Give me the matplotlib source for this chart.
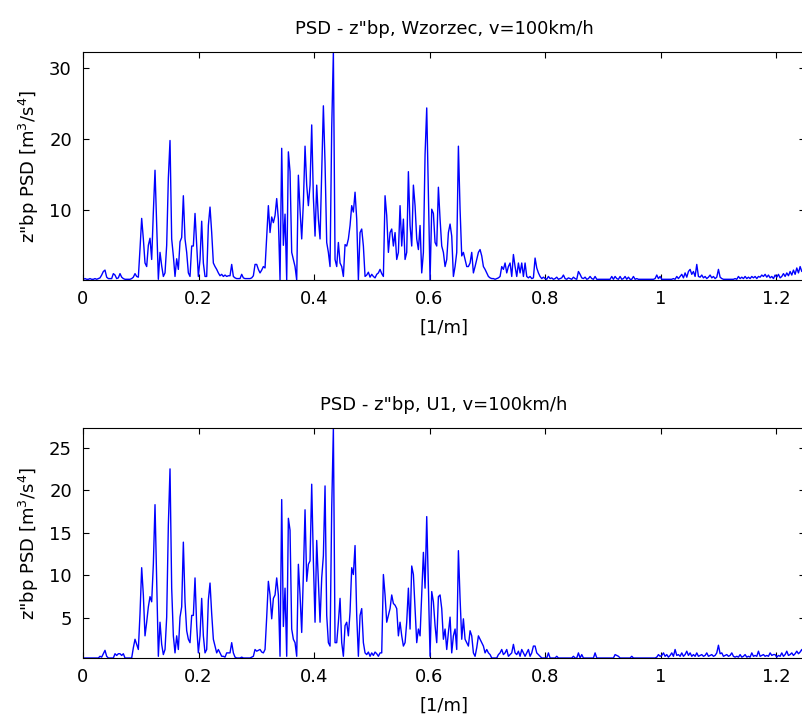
import numpy as np
import matplotlib
matplotlib.use("Agg")
import matplotlib.pyplot as plt

plt.rcParams['font.family'] = ['DejaVu Sans']

# regular frequency grid [1/m]
F_START = 0.000577
F_STEP = 0.002886

psd_wzorzec = [
    0.2,0.3,0.2,0.2,0.3,0.2,0.2,0.3,
    0.2,0.3,0.4,0.8,1.3,1.5,0.5,0.3,0.3,0.3,
    1.0,0.8,0.3,0.4,1.0,0.5,0.3,0.2,0.2,0.2,
    0.2,0.3,0.5,1.0,0.6,0.5,4.5,8.8,5.9,2.5,
    2.0,5.0,6.0,3.0,9.7,15.6,7.8,0.2,4.0,2.1,
    0.6,1.1,5.0,14.5,19.8,5.9,3.5,0.6,3.1,1.6,
    5.5,6.1,12.0,5.9,4.0,1.1,0.6,4.9,4.9,9.5,
    4.9,0.6,3.0,8.4,2.5,0.6,0.6,7.8,10.4,6.8,
    2.5,2.0,1.6,1.1,0.7,0.9,0.6,0.8,0.6,0.7,
    0.7,2.3,0.6,0.4,0.3,0.3,0.3,0.9,0.4,0.3,
    0.3,0.3,0.3,0.4,0.7,2.3,2.3,1.6,1.1,1.5,
    2.0,1.8,6.1,10.6,6.8,9.0,8.2,9.2,11.6,8.7,
    0.1,18.7,5.0,9.4,0.1,18.2,15.4,4.0,3.0,2.0,
    0.1,14.9,10.0,5.9,11.0,19.0,13.5,10.6,13.5,22.0,
    11.8,6.3,13.5,8.7,5.9,15.4,24.7,16.6,5.4,4.0,
    2.0,21.6,32.3,3.0,2.0,5.4,2.5,2.0,0.6,5.1,
    4.9,5.9,7.8,10.6,9.7,12.5,8.7,0.1,6.8,7.3,
    4.9,0.6,0.8,1.2,0.5,0.9,0.6,0.4,0.9,1.1,
    1.6,1.0,0.6,12.0,9.2,4.0,6.8,7.3,4.9,6.8,
    3.0,4.0,10.6,4.9,8.7,3.0,4.0,15.4,7.8,4.9,
    13.5,10.6,5.9,4.4,7.8,1.1,4.0,17.8,24.4,12.5,
    0.1,10.1,9.5,5.4,4.9,13.2,8.7,4.9,4.0,2.0,
    3.0,6.8,8.0,6.3,0.6,2.0,4.0,19.0,10.1,3.5,
    4.0,3.0,2.0,2.0,2.5,4.0,1.1,2.0,3.0,4.0,
    4.4,3.5,2.0,1.6,1.1,0.6,0.4,0.3,0.3,0.2,
    0.3,0.4,0.6,2.0,1.6,2.5,1.1,2.0,2.5,0.6,
    3.7,2.0,0.6,2.5,1.1,2.5,0.6,2.5,0.6,0.4,
    0.6,0.3,0.4,3.2,1.8,1.1,0.6,0.3,0.5,0.3,
    0.2,0.6,0.3,0.4,0.2,0.3,0.5,0.2,0.3,0.4,
    0.8,0.3,0.2,0.4,0.3,0.2,0.5,0.3,0.2,1.3,
    0.9,0.4,0.3,0.5,0.2,0.3,0.6,0.3,0.2,0.6,
    0.2,0.2,0.2,0.2,0.2,0.2,0.2,0.2,0.2,0.6,
    0.2,0.6,0.3,0.2,0.6,0.2,0.3,0.6,0.2,0.5,
    0.2,0.2,0.6,0.2,0.3,0.2,0.2,0.2,0.2,0.2,
    0.2,0.2,0.2,0.2,0.2,0.3,0.8,0.3,0.6,0.2,
    0.2,0.2,0.2,0.2,0.2,0.2,0.3,0.2,0.6,0.3,
    0.6,0.9,0.4,1.1,0.5,1.3,1.6,0.9,1.3,0.6,
    2.3,0.6,0.5,0.8,0.4,0.6,0.3,0.5,0.8,0.4,
    0.6,0.3,0.5,1.6,0.5,0.3,0.2,0.2,0.2,0.2,
    0.2,0.2,0.2,0.3,0.2,0.6,0.3,0.5,0.3,0.6,
    0.3,0.5,0.3,0.6,0.4,0.6,0.3,0.6,0.5,0.8,
    0.6,0.9,0.5,0.8,0.4,0.6,0.3,0.8,0.5,0.9,
    0.4,0.6,1.0,0.6,1.1,0.7,1.3,0.8,1.5,0.9,
    1.8,1.1,2.0,1.3,1.6,1.0,
]

psd_u1 = [
    0.3,0.3,0.3,0.3,0.3,0.3,0.3,0.3,
    0.3,0.3,0.5,0.4,0.8,1.2,0.5,0.3,0.3,0.3,
    0.3,0.8,0.6,0.8,0.8,0.6,0.8,0.3,0.3,0.3,
    0.3,0.3,1.5,2.5,1.9,1.3,5.5,10.9,7.7,2.9,
    4.5,6.3,7.5,6.9,11.3,18.3,9.1,0.5,4.5,1.9,
    0.7,1.3,5.1,15.9,22.5,8.5,2.9,0.9,2.9,1.3,
    5.1,6.3,13.9,6.9,3.5,2.5,2.1,5.3,5.3,9.7,
    4.1,0.9,2.9,7.3,2.9,0.9,1.3,7.1,9.1,5.5,
    2.5,1.7,0.9,1.3,0.9,0.5,0.5,0.4,0.9,0.9,
    0.9,2.1,0.9,0.4,0.3,0.3,0.3,0.4,0.3,0.3,
    0.3,0.3,0.3,0.4,0.5,1.3,1.1,1.2,1.3,1.0,
    0.9,1.3,5.1,9.3,7.7,4.9,7.3,7.7,9.7,7.7,
    0.5,18.9,4.0,8.5,0.5,16.7,15.3,3.7,2.5,2.1,
    0.5,11.3,7.7,3.3,10.1,17.7,9.3,11.3,11.7,20.7,
    11.7,4.5,14.1,9.3,4.5,9.7,12.3,20.5,5.3,2.1,
    1.7,17.9,27.3,2.1,2.1,4.5,7.3,2.1,0.5,4.1,
    4.5,2.9,5.7,10.9,10.1,13.5,5.3,0.5,5.3,6.1,
    2.1,0.9,0.7,1.0,0.5,0.9,0.6,1.0,0.8,0.5,
    0.9,0.9,10.1,7.7,4.5,5.3,6.1,7.7,6.7,6.5,
    6.1,2.9,4.5,2.9,1.7,2.1,4.5,8.5,3.7,11.1,
    10.1,6.1,2.1,3.7,2.9,7.7,12.7,8.5,16.9,8.5,
    0.5,8.1,6.9,4.1,2.1,7.5,7.7,6.1,2.5,3.7,
    1.3,3.3,5.1,0.9,2.9,3.7,1.3,12.9,7.3,2.5,
    4.9,2.5,2.1,1.7,3.5,2.9,0.9,0.5,1.5,2.9,
    2.5,2.1,1.7,0.9,1.3,0.9,0.7,0.3,0.3,0.3,
    0.3,0.7,0.9,1.3,0.7,0.9,1.3,0.5,0.7,0.9,
    1.9,0.9,0.7,1.1,0.5,1.3,0.9,0.5,0.9,1.3,
    0.5,0.9,1.7,1.7,0.9,0.7,0.5,0.3,0.3,0.3,
    0.3,0.9,0.3,0.3,0.3,0.3,0.5,0.3,0.3,0.3,
    0.3,0.3,0.3,0.3,0.3,0.3,0.5,0.3,0.3,0.9,
    0.3,0.7,0.3,0.3,0.3,0.3,0.3,0.3,0.3,0.9,
    0.3,0.3,0.3,0.3,0.3,0.3,0.3,0.3,0.3,0.3,
    0.3,0.7,0.6,0.5,0.3,0.3,0.3,0.3,0.3,0.3,
    0.3,0.5,0.3,0.3,0.3,0.3,0.3,0.3,0.3,0.3,
    0.3,0.3,0.3,0.3,0.3,0.3,0.4,0.7,0.5,0.6,
    0.9,0.5,0.7,0.4,0.6,0.9,0.5,1.3,0.6,0.7,
    0.5,0.9,0.5,0.7,1.1,0.6,0.9,0.5,0.7,0.5,
    0.9,0.5,0.6,0.7,0.5,0.6,0.9,0.5,0.6,0.7,
    0.5,0.6,0.9,1.8,0.8,0.9,0.5,0.6,0.7,0.5,
    0.6,0.9,0.5,0.4,0.5,0.4,0.7,0.4,0.5,0.7,
    0.4,0.5,0.4,0.9,0.5,0.6,0.5,1.1,0.5,0.6,
    0.7,0.5,0.6,0.5,0.9,0.6,0.7,0.7,0.4,0.6,
    0.5,0.9,0.5,0.7,1.1,0.6,0.7,0.9,0.6,0.8,
    1.1,0.8,1.0,1.3,0.9,1.1,
]

titles = ["PSD - z\"bp, Wzorzec, v=100km/h", "PSD - z\"bp, U1, v=100km/h"]
ylabel = r'z"bp PSD [m$^3$/s$^4$]'
xlabel = "[1/m]"
xticks = [0, 0.2, 0.4, 0.6, 0.8, 1.0, 1.2]
xticklabels = ["0", "0.2", "0.4", "0.6", "0.8", "1", "1.2"]
yticks_top = [10, 20, 30]
yticks_bot = [5, 10, 15, 20, 25]

fig = plt.figure(figsize=(8.02, 7.18), dpi=100)
W, H = 802.0, 718.0
left = 83 / W
width = (805 - 83) / W
ax1 = fig.add_axes([left, 1 - 280 / H, width, 228 / H])
ax2 = fig.add_axes([left, 1 - 658 / H, width, 230 / H])

FS = 13
for ax, data, title, yt in [(ax1, psd_wzorzec, titles[0], yticks_top),
                             (ax2, psd_u1, titles[1], yticks_bot)]:
    d = np.array(data)
    f = F_START + np.arange(len(d)) * F_STEP
    ax.plot(f, d, color=(0, 0, 1), lw=1.0)
    ax.set_xlim(0, 1.25)
    ax.set_ylim(d.min(), d.max())
    ax.set_xticks(xticks)
    ax.set_xticklabels(xticklabels)
    ax.set_yticks(yt)
    ax.tick_params(direction='in', top=True, right=True, length=4,
                   width=0.8, labelsize=FS)
    ax.tick_params(axis='x', pad=7)
    ax.tick_params(axis='y', pad=8)
    for s in ax.spines.values():
        s.set_linewidth(0.8)
    ax.set_title(title, fontsize=FS, pad=13)
    ax.set_xlabel(xlabel, fontsize=FS, labelpad=8)
    ax.set_ylabel(ylabel, fontsize=FS, labelpad=6)

fig.savefig("out.png", dpi=100)
